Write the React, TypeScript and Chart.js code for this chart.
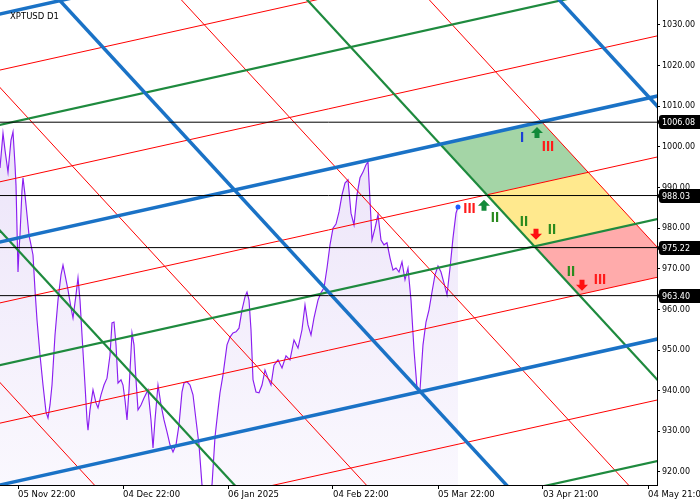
import React, { useEffect, useRef } from "react";
import { Chart, registerables } from "chart.js";

Chart.register(...registerables);

// ---------- data ----------
const chartTitle = "XPTUSD D1";

// x axis = trading-day index, 0 = 05 Nov
const xMin = -3.6;
const xMax = 127.8;
const xTickIndex = [0, 21, 42, 63, 84, 105, 126];
const xTickLabels = [
  "05 Nov 22:00",
  "04 Dec 22:00",
  "06 Jan 2025",
  "04 Feb 22:00",
  "05 Mar 22:00",
  "03 Apr 21:00",
  "04 May 21:00",
];

const yMin = 916.8;
const yMax = 1036.15;
const yTicks = [920, 930, 940, 950, 960, 970, 980, 990, 1000, 1010, 1020, 1030];

const priceIndex = [
  -3.6, -3.0, -2.6, -2.0, -1.4, -1.0, -0.6, -0.4, 0.0, 0.2, 0.4, 0.8, 1.0, 1.4, 1.8, 2.2, 2.6, 3.0, 3.4, 3.8,
  4.4, 5.0, 5.6, 6.0, 6.4, 6.8, 7.4, 8.0, 8.6, 9.0, 9.4, 10.0, 10.6, 11.0, 11.6, 12.0, 12.4, 12.8, 13.4, 13.8,
  14.0, 14.4, 15.0, 15.6, 16.0, 16.6, 17.2, 17.8, 18.4, 18.8, 19.2, 19.6, 20.0, 20.6, 21.0, 21.4, 21.8, 22.2, 22.8, 23.2,
  23.6, 24.0, 24.6, 25.2, 26.0, 26.6, 27.0, 27.4, 28.0, 28.6, 29.2, 29.8, 30.4, 31.0, 31.6, 32.2, 32.8, 33.2, 33.8, 34.4,
  35.0, 35.6, 36.2, 36.8, 37.8, 38.8, 39.4, 40.0, 40.4, 41.0, 41.8, 42.4, 43.0, 43.6, 44.2, 44.8, 45.4, 45.8, 46.2, 46.6,
  47.0, 47.6, 48.2, 48.8, 49.4, 50.0, 50.6, 51.2, 52.0, 52.8, 53.6, 54.4, 55.2, 56.0, 56.8, 57.4, 58.0, 58.6, 59.2, 60.0,
  60.6, 61.2, 61.8, 62.4, 63.0, 63.6, 64.2, 64.8, 65.4, 66.0, 66.6, 67.2, 67.8, 68.4, 69.0, 69.6, 70.0, 70.4, 70.8, 71.4,
  72.0, 72.6, 73.2, 73.8, 74.4, 75.0, 75.6, 76.2, 76.8, 77.4, 78.0, 78.6, 79.2, 79.8, 80.4, 81.0, 81.6, 82.2, 82.8, 83.4,
  84.0, 84.6, 85.2, 85.8, 86.4, 87.0, 87.6, 88.0,
];
const priceValues = [
  994.8, 1003.4, 999.2, 993.8, 1001.7, 1003.7, 995.6, 990.6, 969.2, 974.6, 978.3, 989.4, 992.4, 988.2, 983.3, 978.3, 975.9, 973.4, 964.8, 957.4,
  948.8, 941.4, 934.8, 933.3, 936.5, 941.4, 953.7, 962.3, 968.5, 970.9, 968.5, 964.8, 960.4, 957.9, 963.6, 967.8, 962.3, 953.7, 941.4, 932.8,
  930.3, 935.3, 940.2, 937.0, 935.8, 939.0, 941.4, 943.1, 948.8, 956.7, 956.9, 951.3, 941.9, 942.7, 941.4, 937.7, 932.8, 940.2, 954.2, 951.3,
  942.7, 935.3, 936.5, 938.2, 940.2, 932.8, 925.9, 932.8, 941.4, 936.5, 932.8, 929.9, 926.7, 924.9, 926.7, 931.6, 939.7, 941.9, 942.2, 941.4,
  939.0, 932.8, 926.7, 916.8, 912.0, 916.8, 928.6, 935.3, 939.5, 943.9, 951.3, 953.2, 954.2, 954.5, 955.4, 959.9, 963.1, 964.3, 962.3, 955.0,
  942.7, 939.7, 939.5, 941.4, 945.1, 943.1, 941.4, 946.3, 947.6, 945.6, 948.6, 947.6, 952.5, 950.5, 955.0, 961.1, 956.2, 953.7, 957.9, 962.3,
  964.1, 965.3, 970.2, 975.9, 980.0, 981.0, 984.0, 988.2, 991.1, 991.9, 983.7, 980.8, 988.2, 992.4, 993.8, 995.6, 996.3, 986.9, 977.1, 980.0,
  983.3, 977.1, 975.9, 976.4, 972.7, 969.7, 970.2, 969.2, 971.7, 967.3, 970.2, 962.3, 950.0, 940.7, 940.2, 951.3, 956.9, 959.9, 964.3, 968.5,
  970.7, 969.2, 966.5, 963.6, 970.2, 977.6, 983.7, 985.2,
];

// horizontal price levels
const levelPrices = [1006.08, 988.03, 975.22, 963.4];

// Gann grid: price per bar, and each line's price at index 0
const risingSlope = 0.2731;
const fallingSlope = 1.335;
const risingAt0 = [1033.7, 1019.9, 1006.4, 992.4, 977.6, 962.6, 947.3, 933.0, 917.8, 902.8, 887.8];
const risingKind = ["major", "minor", "mid", "minor", "major", "minor", "mid", "minor", "major", "minor", "mid"];
const fallingAt0 = [937.2, 974.6, 1009.8, 1047.2, 1079.8, 1113.4, 1146.0, 1180.7];
const fallingKind = ["minor", "mid", "minor", "major", "minor", "mid", "minor", "major"];

// zones: [upper rising, lower rising, left falling, right falling]
const zoneLines = [
  [4, 5, 5, 6],
  [5, 6, 5, 6],
  [6, 7, 5, 6],
];

// roman numeral labels
const labelIndex = [100.8, 106.0, 90.3, 95.4, 101.2, 106.8, 110.6, 116.4];
const labelPrice = [1002.2, 999.9, 984.7, 982.6, 981.5, 979.7, 969.2, 967.3];
const labelText = ["I", "III", "III", "II", "II", "II", "II", "III"];

// arrows
const arrowIndex = [103.8, 93.2, 103.6, 112.8];
const arrowPrice = [1003.4, 985.5, 978.6, 966.1];
const arrowDir = ["up", "up", "down", "down"];

// ---------- styles ----------
const gannStyle: Record<string, { color: string; width: number; order: number }> = {
  major: { color: "#1a72c6", width: 3.5, order: 4 },
  mid: { color: "#1e8a3e", width: 2.2, order: 5 },
  minor: { color: "#ff0000", width: 1, order: 6 },
};
const zoneColors = ["#a4d5a6", "#ffe98e", "#ffabab"];
const numeralColor: Record<string, string> = { I: "#1c3fd6", II: "#2a8a1e", III: "#ff1a1a" };
const arrowColor: Record<string, string> = { up: "#138a3a", down: "#ff1010" };
const xFont = { family: "'DejaVu Sans', sans-serif", size: 8.5 };
const yFont = { family: "'DejaVu Sans', sans-serif", size: 8 };

const overlay = {
  id: "overlay",
  afterDatasetsDraw(chart: any) {
    const { ctx, chartArea: a } = chart;
    const xs = chart.scales.x;
    const ys = chart.scales.y;
    ctx.save();
    ctx.beginPath();
    ctx.rect(a.left, a.top, a.right - a.left, a.bottom - a.top);
    ctx.clip();
    ctx.font = "bold 15px 'Liberation Sans', Arial, sans-serif";
    ctx.textAlign = "center";
    ctx.textBaseline = "middle";
    labelText.forEach((t, k) => {
      ctx.fillStyle = numeralColor[t];
      ctx.fillText(t, xs.getPixelForValue(labelIndex[k]), ys.getPixelForValue(labelPrice[k]));
    });
    arrowDir.forEach((d, k) => {
      const cx = xs.getPixelForValue(arrowIndex[k]);
      const cy = ys.getPixelForValue(arrowPrice[k]);
      const s = d === "up" ? 1 : -1;
      ctx.fillStyle = arrowColor[d];
      ctx.beginPath();
      ctx.moveTo(cx, cy - 6 * s);
      ctx.lineTo(cx + 6, cy);
      ctx.lineTo(cx + 2.5, cy);
      ctx.lineTo(cx + 2.5, cy + 5 * s);
      ctx.lineTo(cx - 2.5, cy + 5 * s);
      ctx.lineTo(cx - 2.5, cy);
      ctx.lineTo(cx - 6, cy);
      ctx.closePath();
      ctx.fill();
    });
    ctx.restore();
  },
  afterDraw(chart: any) {
    const { ctx, chartArea: a } = chart;
    const ys = chart.scales.y;
    ctx.save();
    ctx.font = "8px 'DejaVu Sans', sans-serif";
    ctx.textBaseline = "middle";
    levelPrices.forEach((v) => {
      const yy = Math.round(ys.getPixelForValue(v));
      ctx.fillStyle = "#000";
      ctx.beginPath();
      ctx.moveTo(a.right, yy);
      ctx.lineTo(a.right + 4, yy - 5);
      ctx.lineTo(a.right + 4, yy + 5);
      ctx.closePath();
      ctx.fill();
      ctx.beginPath();
      (ctx as any).roundRect(a.right + 2, yy - 7, 44, 14, 3);
      ctx.fill();
      ctx.fillStyle = "#fff";
      ctx.textAlign = "left";
      ctx.fillText(v.toFixed(2), a.right + 5, yy + 0.5);
    });
    ctx.font = "8.5px 'DejaVu Sans', sans-serif";
    ctx.fillStyle = "#000";
    ctx.textAlign = "left";
    ctx.fillText(chartTitle, 10, 16.5);
    ctx.restore();
  },
};

export default function App() {
  const canvasRef = useRef<HTMLCanvasElement | null>(null);

  useEffect(() => {
    document.body.style.margin = "0";
    const canvas = canvasRef.current;
    if (!canvas) return;

    const ext = [-30, 160];
    const datasets: any[] = [];

    // horizontal levels
    levelPrices.forEach((v) => {
      datasets.push({
        data: ext.map((x) => ({ x, y: v })),
        borderColor: "#000",
        borderWidth: 1,
        pointRadius: 0,
        fill: false,
        order: 1,
      });
    });

    // rising lines
    risingAt0.forEach((p0, k) => {
      const st = gannStyle[risingKind[k]];
      datasets.push({
        data: ext.map((x) => ({ x, y: p0 + risingSlope * x })),
        borderColor: st.color,
        borderWidth: st.width,
        pointRadius: 0,
        fill: false,
        order: st.order,
      });
    });
    // falling lines
    fallingAt0.forEach((p0, k) => {
      const st = gannStyle[fallingKind[k]];
      datasets.push({
        data: ext.map((x) => ({ x, y: p0 - fallingSlope * x })),
        borderColor: st.color,
        borderWidth: st.width,
        pointRadius: 0,
        fill: false,
        order: st.order,
      });
    });

    // zones (intersections of grid lines)
    const inter = (r: number, f: number) => {
      const x = (fallingAt0[f] - risingAt0[r]) / (risingSlope + fallingSlope);
      return { x, y: risingAt0[r] + risingSlope * x };
    };
    zoneLines.forEach(([top, bot, left, right], k) => {
      datasets.push({
        data: [inter(top, left), inter(top, right), inter(bot, right), inter(bot, left)],
        borderWidth: 0,
        borderColor: "rgba(0,0,0,0)",
        backgroundColor: zoneColors[k],
        pointRadius: 0,
        fill: "shape",
        order: 9,
      });
    });

    // price line
    const last = priceIndex.length - 1;
    datasets.push({
      data: priceIndex.map((x, k) => ({ x, y: priceValues[k] })),
      borderColor: "#8a1ef0",
      borderWidth: 1.15,
      fill: "start",
      backgroundColor: (c: any) => {
        const ch = c.chart;
        const ar = ch.chartArea;
        if (!ar) return "rgba(238,232,250,1)";
        const g = ch.ctx.createLinearGradient(0, ar.top + 130, 0, ar.bottom);
        g.addColorStop(0, "#ece4f9");
        g.addColorStop(1, "#faf8fe");
        return g;
      },
      pointRadius: (c: any) => (c.dataIndex === last ? 2.5 : 0),
      pointHoverRadius: 0,
      pointBackgroundColor: "#1f5cff",
      pointBorderWidth: 0,
      order: 10,
    });

    const chart = new Chart(canvas, {
      type: "line",
      data: { datasets },
      options: {
        animation: false,
        responsive: false,
        devicePixelRatio: 1,
        layout: { padding: 0, autoPadding: false },
        elements: { line: { tension: 0 }, point: { radius: 0, hoverRadius: 0 } },
        plugins: {
          legend: { display: false },
          tooltip: { enabled: false },
          title: { display: false },
        },
        scales: {
          x: {
            type: "linear",
            position: "bottom",
            min: xMin,
            max: xMax,
            afterBuildTicks: (s: any) => {
              s.ticks = xTickIndex.map((v) => ({ value: v }));
            },
            afterFit: (s: any) => {
              s.height = 15;
              s.paddingLeft = 0;
              s.paddingRight = 0;
            },
            ticks: {
              autoSkip: false,
              maxRotation: 0,
              minRotation: 0,
              align: "start",
              padding: 1,
              color: "#000",
              font: xFont,
              callback: (v: any) => {
                const k = xTickIndex.indexOf(Number(v));
                return k >= 0 ? xTickLabels[k] : "";
              },
            },
            grid: { display: true, drawOnChartArea: false, drawTicks: true, tickLength: 4, color: "#000" },
            border: { display: true, color: "#000", width: 1 },
          },
          y: {
            type: "linear",
            position: "right",
            min: yMin,
            max: yMax,
            afterBuildTicks: (s: any) => {
              s.ticks = yTicks.map((v) => ({ value: v }));
            },
            afterFit: (s: any) => {
              s.width = 43;
              s.paddingTop = 0;
              s.paddingBottom = 0;
            },
            ticks: {
              padding: 2,
              color: "#000",
              font: yFont,
              callback: (v: any) => Number(v).toFixed(2),
            },
            grid: { display: true, drawOnChartArea: false, drawTicks: true, tickLength: 3, color: "#000" },
            border: { display: true, color: "#000", width: 1 },
          },
        },
      } as any,
      plugins: [overlay as any],
    });

    return () => chart.destroy();
  }, []);

  return (
    <div style={{ width: 700, height: 500 }}>
      <canvas ref={canvasRef} width={700} height={500} style={{ display: "block" }} />
    </div>
  );
}
